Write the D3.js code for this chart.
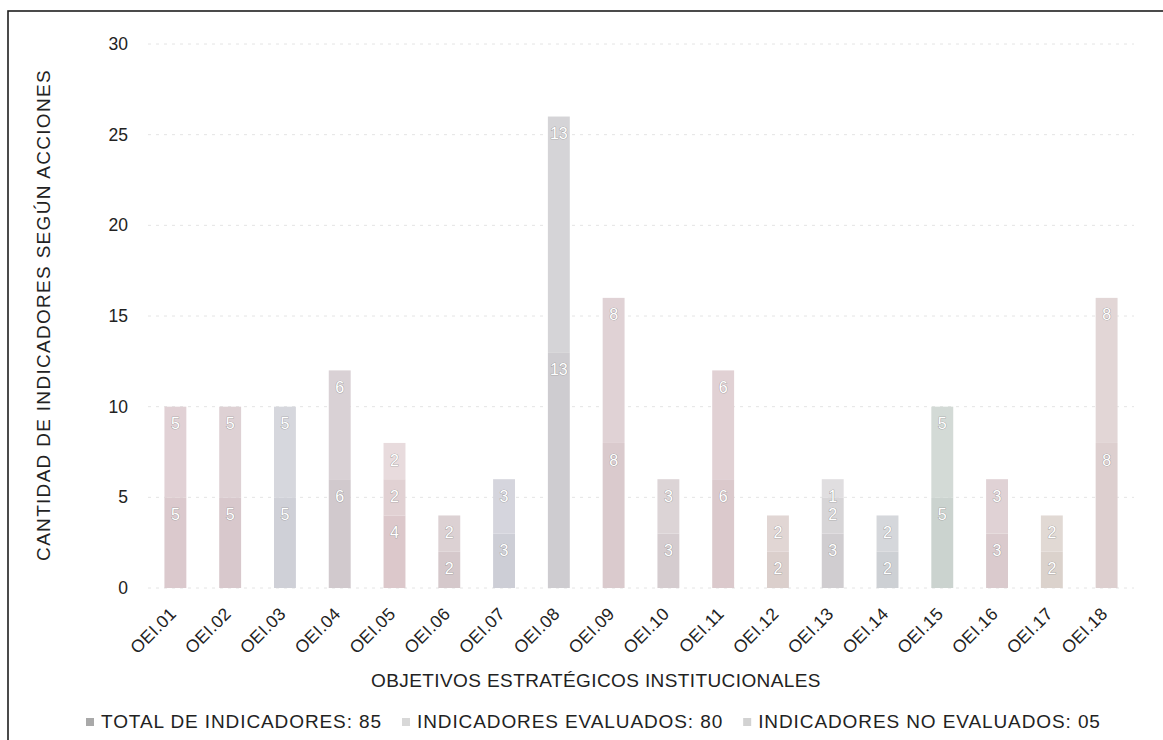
<!DOCTYPE html>
<html>
<head>
<meta charset="utf-8">
<script src="https://cdn.jsdelivr.net/npm/d3@7"></script>
<style>
  html, body { margin: 0; padding: 0; background: #fff; }
  svg { display: block; font-family: "Liberation Sans", Arial, sans-serif; }
</style>
</head>
<body>
<svg id="chart" width="1163" height="740"></svg>
<script>
// ---- data ----
const categories = ["OEI.01","OEI.02","OEI.03","OEI.04","OEI.05","OEI.06","OEI.07","OEI.08","OEI.09",
                    "OEI.10","OEI.11","OEI.12","OEI.13","OEI.14","OEI.15","OEI.16","OEI.17","OEI.18"];
const totalIndicadores    = [5,5,5,6,4,2,3,13,8,3,6,2,3,2,5,3,2,8];
const indicadoresEvaluados = [5,5,5,6,2,2,3,13,8,3,6,2,2,2,5,3,2,8];
const indicadoresNoEvaluados = [0,0,0,0,2,0,0,0,0,0,0,0,1,0,0,0,0,0];
const seriesKeys = ["total","evaluados","noEvaluados"];
const legendLabels = ["TOTAL DE INDICADORES: 85","INDICADORES EVALUADOS: 80","INDICADORES NO EVALUADOS: 05"];
const yTicks = [0,5,10,15,20,25,30];
const yTitle = "CANTIDAD DE INDICADORES SEGÚN ACCIONES";
const xTitle = "OBJETIVOS ESTRATÉGICOS INSTITUCIONALES";

// ---- styles (scan-like tints per bar) ----
const barTints = ["#d9c6ca","#d6c5c9","#cccdd5","#cfc6ca","#dac5c8","#d3c5c8","#cacbd4","#cbc9cd","#d8c7ca",
                  "#d3c9cc","#d9c6c9","#d9ccc9","#cdcacd","#cacdd2","#c8d1cc","#d8c7ca","#d9d0c9","#dbcccc"];
const segLighten = [0.05, 0.2, 0.38];
const legendColors = ["#a9a9a9","#d8d8d8","#d2d2d2"];
const textColor = "#222222";

const rows = categories.map((c,i) => ({cat: c, i: i,
  total: totalIndicadores[i], evaluados: indicadoresEvaluados[i], noEvaluados: indicadoresNoEvaluados[i]}));
const stacked = d3.stack().keys(seriesKeys)(rows);

const svg = d3.select("#chart");

// frame
svg.append("rect").attr("x", 8).attr("y", 11).attr("width", 1170).attr("height", 760)
  .attr("fill", "none").attr("stroke", "#1e1e1e").attr("stroke-width", 1.6);

const x = d3.scaleBand().domain(categories).range([148, 1134]).paddingInner(0.6).paddingOuter(0.3);
const y = d3.scaleLinear().domain([0, 30]).range([588, 44]);

// gridlines
svg.append("g").selectAll("line").data(yTicks).join("line")
  .attr("x1", 148).attr("x2", 1134)
  .attr("y1", d => y(d)).attr("y2", d => y(d))
  .attr("stroke", "#e4e4e4").attr("stroke-width", 1).attr("stroke-dasharray", "3,5");

// y axis (labels only)
const yAxis = d3.axisLeft(y).tickValues(yTicks).tickSize(0).tickPadding(0);
const gy = svg.append("g").attr("transform", "translate(128,0)").call(yAxis);
gy.select(".domain").remove();
gy.selectAll("text").attr("font-size", 17.5).attr("fill", textColor)
  .attr("font-family", "Liberation Sans, Arial, sans-serif");

// bars
const segG = svg.append("g").selectAll("g").data(stacked).join("g");
segG.each(function(series, si) {
  d3.select(this).selectAll("rect").data(series).join("rect")
    .attr("x", d => x(d.data.cat))
    .attr("width", x.bandwidth())
    .attr("y", d => y(d[1]))
    .attr("height", d => y(d[0]) - y(d[1]))
    .attr("fill", d => d3.interpolateRgb(barTints[d.data.i], "#ffffff")(segLighten[si]));
});

// data labels
segG.each(function(series, si) {
  d3.select(this).selectAll("text").data(series.filter(d => d[1] - d[0] > 0)).join("text")
    .attr("x", d => x(d.data.cat) + x.bandwidth() / 2)
    .attr("y", d => y(d[1]) + 17)
    .attr("dy", "0.35em")
    .attr("text-anchor", "middle")
    .attr("font-size", 16)
    .attr("fill", "#ffffff")
    .attr("stroke", "#8e8e8e")
    .attr("stroke-width", 0.7)
    .attr("paint-order", "stroke")
    .text(d => d[1] - d[0]);
});

// x axis labels
const xAxis = d3.axisBottom(x).tickSize(0).tickPadding(0);
const gx = svg.append("g").attr("transform", "translate(0,588)").call(xAxis);
gx.select(".domain").remove();
gx.selectAll(".tick text")
  .attr("font-size", 17.5).attr("fill", textColor)
  .attr("font-family", "Liberation Sans, Arial, sans-serif")
  .attr("letter-spacing", "0.3px")
  .attr("text-anchor", "end")
  .attr("dy", 0).attr("y", 0)
  .attr("transform", "translate(2,27) rotate(-45)");

// axis titles
svg.append("text").attr("x", 596).attr("y", 687).attr("text-anchor", "middle")
  .attr("font-size", 19).attr("letter-spacing", "0.4px").attr("fill", textColor).text(xTitle);
svg.append("text").attr("transform", "translate(50,315) rotate(-90)").attr("text-anchor", "middle")
  .attr("font-size", 19).attr("letter-spacing", "1.3px").attr("fill", textColor).text(yTitle);

// legend
const lg = svg.append("g");
let lx = 86;
legendLabels.forEach((lab, k) => {
  lg.append("rect").attr("x", lx).attr("y", 718).attr("width", 8).attr("height", 8)
    .attr("fill", legendColors[k]);
  const t = lg.append("text").attr("x", lx + 15).attr("y", 728)
    .attr("font-size", 19).attr("letter-spacing", "0.9px").attr("fill", textColor).text(lab);
  lx = lx + 15 + t.node().getComputedTextLength() + 20;
});
</script>
</body>
</html>
